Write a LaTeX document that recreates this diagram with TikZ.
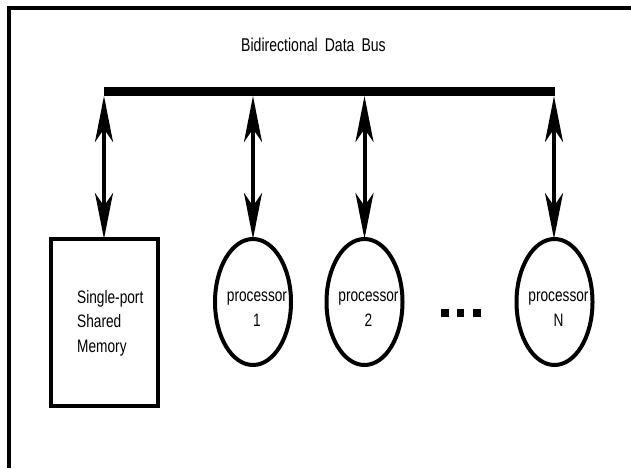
\documentclass[tikz,border=0pt]{standalone}
\usepackage{fontspec}
\setmainfont{Liberation Sans}
\newfontfamily\narrowsans[FakeStretch=0.76, WordSpace=1.8]{Liberation Sans}
\usetikzlibrary{arrows.meta,shapes.geometric}

\tikzset{
  frameline/.style={line width=4pt, line cap=butt},
  busline/.style={line width=9pt, line cap=butt},
  biarrow/.style={line width=4pt,
    {Stealth[length=46pt,width=18pt,inset=13pt]}-{Stealth[length=46pt,width=18pt,inset=13pt]}},
  membox/.style={draw, line width=4pt, rectangle, minimum width=107pt,
    minimum height=167pt, inner sep=0pt},
  procnode/.style={draw, line width=4pt, ellipse, minimum width=76pt,
    minimum height=126pt, inner sep=0pt},
  lbl/.style={font=\narrowsans\fontsize{18}{24.5}\selectfont, inner sep=0pt},
  dotsq/.style={fill=black, minimum width=7.5pt, minimum height=8pt, inner sep=0pt}
}

\begin{document}
\begin{tikzpicture}[x=1pt, y=-1pt]
  \useasboundingbox (0,0) rectangle (631,468);

  % open frame: top and left edges only
  \coordinate (fl) at (9,468);
  \coordinate (fc) at (9,8);
  \coordinate (fr) at (631,8);
  \draw[frameline] (fl) -- (fc) -- (fr);

  % bus title
  \node[font=\narrowsans\fontsize{18.5}{22}\selectfont, inner sep=0pt] (title) at (313.5,45)
    {Bidirectional Data Bus};

  % the bus bar
  \coordinate (busL) at (104,91.5);
  \coordinate (busR) at (555,91.5);
  \draw[busline] (busL) -- (busR);

  % shared memory and processors
  \node[membox] (mem) at (104.5,322.5) {};
  \node[lbl, align=left, anchor=west] (memtext) at (77,323)
    {Single-port\\Shared\\Memory};

  \node[procnode] (p1) at (253,302) {};
  \node[procnode] (p2) at (364.5,302) {};
  \node[procnode] (pN) at (554.5,302) {};
  \node[lbl, align=center] (p1t) at (257,309) {processor\\1};
  \node[lbl, align=center] (p2t) at (368.5,309) {processor\\2};
  \node[lbl, align=center] (pNt) at (558.5,309) {processor\\N};

  % ellipsis between processor 2 and processor N
  \node[dotsq] (d1) at (445,312.5) {};
  \node[dotsq] (d2) at (460.5,312.5) {};
  \node[dotsq] (d3) at (477,312.5) {};

  % taps from the bus
  \coordinate (t0) at (104,96);
  \coordinate (t1) at (253,96);
  \coordinate (t2) at (364.5,96);
  \coordinate (tN) at (554,96);
  \draw[biarrow] (t0) -- ([yshift=-2pt]mem.north -| t0);
  \draw[biarrow] (t1) -- ([yshift=-2pt]p1.north);
  \draw[biarrow] (t2) -- ([yshift=-2pt]p2.north);
  \draw[biarrow] (tN) -- ([yshift=-2pt]pN.north -| tN);
\end{tikzpicture}
\end{document}
